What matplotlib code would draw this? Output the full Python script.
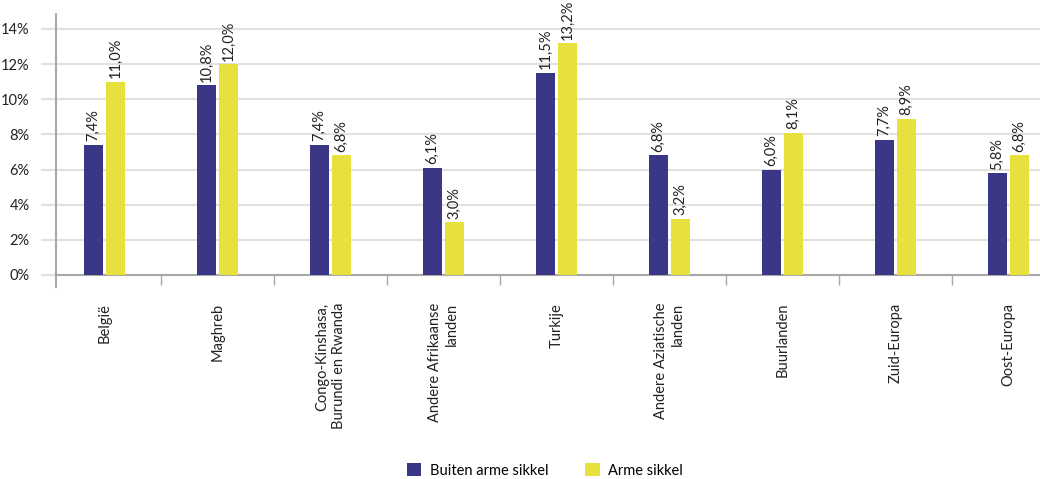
import matplotlib

matplotlib.use("Agg")
import matplotlib.pyplot as plt
from matplotlib.patches import Patch

plt.rcParams["font.family"] = ["Lato", "DejaVu Sans"]

categories = [
    "België",
    "Maghreb",
    "Congo-Kinshasa,\nBurundi en Rwanda",
    "Andere Afrikaanse\nlanden",
    "Turkije",
    "Andere Aziatische\nlanden",
    "Buurlanden",
    "Zuid-Europa",
    "Oost-Europa",
]
buiten_arme_sikkel = [7.4, 10.8, 7.4, 6.1, 11.5, 6.8, 6.0, 7.7, 5.8]
arme_sikkel = [11.0, 12.0, 6.8, 3.0, 13.2, 3.2, 8.1, 8.9, 6.8]
y_ticks = [0, 2, 4, 6, 8, 10, 12, 14]
series_names = ["Buiten arme sikkel", "Arme sikkel"]

BLUE = "#3b3787"
YELLOW = "#e8e03c"
GRID = "#e2e1dc"
AXIS = "#a8a8a8"
TEXT = "#222222"


def fmt(value):
    return f"{value:.1f}".replace(".", ",") + "%"


fig = plt.figure(figsize=(10.4, 4.79), dpi=100)
# axes from x=56..1040 px, y=14..275 px
ax = fig.add_axes([56 / 1040, (479 - 275) / 479, (1040 - 56) / 1040, (275 - 14) / 479])

positions = list(range(len(categories)))
width = 0.168
offset = 0.097

bars_blue = ax.bar([p - offset for p in positions], buiten_arme_sikkel, width, color=BLUE, zorder=3)
bars_yellow = ax.bar([p + offset for p in positions], arme_sikkel, width, color=YELLOW, zorder=3)

for bars, values in ((bars_blue, buiten_arme_sikkel), (bars_yellow, arme_sikkel)):
    for bar, value in zip(bars, values):
        ax.annotate(
            fmt(value),
            (bar.get_x() + bar.get_width() / 2, bar.get_height()),
            xytext=(0, 2.5),
            textcoords="offset points",
            rotation=90,
            ha="center",
            va="bottom",
            fontsize=10.5,
            color=TEXT,
            annotation_clip=False,
        )

ax.set_xlim(-0.43, 8.28)
ax.set_ylim(0, 14.85)
ax.set_yticks(y_ticks)
ax.set_yticklabels([f"{t}%" for t in y_ticks], fontsize=10.5, color=TEXT)
ax.yaxis.grid(True, color=GRID, linewidth=1.5, zorder=0)
ax.tick_params(axis="y", length=11, width=1.5, color=GRID, pad=8)

# category separators as ticks on the x-axis
ax.set_xticks([p + 0.5 for p in positions[:-1]])
ax.set_xticklabels([])
ax.tick_params(axis="x", length=7, width=1, color=AXIS)

for cat, pos in zip(categories, positions):
    ax.annotate(
        cat,
        (pos, 0),
        xycoords=("data", "axes fraction"),
        xytext=(0, -20),
        textcoords="offset points",
        rotation=90,
        ha="center",
        va="top",
        multialignment="right",
        fontsize=10.5,
        color=TEXT,
        annotation_clip=False,
    )

for side in ("top", "right"):
    ax.spines[side].set_visible(False)
ax.spines["left"].set_color(AXIS)
ax.spines["left"].set_linewidth(1.5)
ax.spines["bottom"].set_color(AXIS)
ax.spines["bottom"].set_linewidth(1.5)
ax.plot([0, 0], [-0.045, 0], transform=ax.transAxes, color=AXIS, linewidth=1.5, clip_on=False)

handles = [Patch(facecolor=BLUE), Patch(facecolor=YELLOW)]
fig.legend(
    handles,
    series_names,
    loc="center",
    bbox_to_anchor=(0.524, 0.018),
    ncol=2,
    frameon=False,
    fontsize=10.5,
    handlelength=1.0,
    handleheight=1.0,
    handletextpad=0.6,
    columnspacing=2.5,
)

fig.savefig("out.png", dpi=100)
